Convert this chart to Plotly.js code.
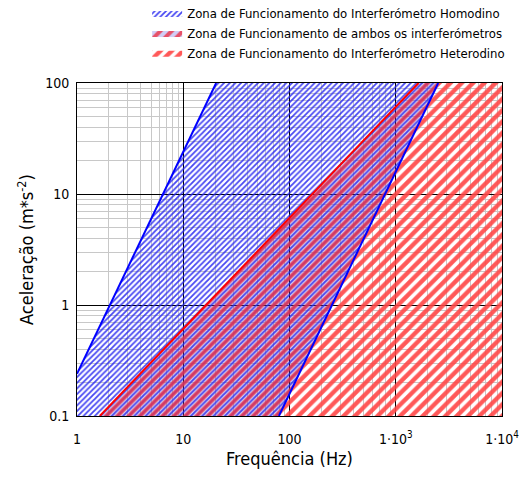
<!DOCTYPE html>
<html>
<head>
<meta charset="utf-8">
<script src="https://cdn.plot.ly/plotly-3.0.1.min.js"></script>
<style>html,body{margin:0;padding:0;background:#fff;}#chart{width:522px;height:477px;}</style>
</head>
<body>
<div id="chart"></div>
<script>
// Axis limits
const freqLimits = [1, 10000];
const accLimits = [0.1, 100];

// Boundary lines (frequency Hz, acceleration m/s^2)
const homodinoLowF = [1, 20.4];      // left edge of homodyne zone
const homodinoLowA = [0.24, 100];
const homodinoHighF = [79.5, 2510];  // right edge of homodyne zone
const homodinoHighA = [0.1, 100];
const heterodinoF = [1.64, 1640];    // left edge of heterodyne zone
const heterodinoA = [0.1, 100];

const legendNames = [
  'Zona de Funcionamento do Interferómetro Homodino',
  'Zona de Funcionamento de ambos os interferómetros',
  'Zona de Funcionamento do Interferómetro Heterodino'
];

const xTickVals = [1, 10, 100, 1000, 10000];
const xTickText = ['1', '10', '100', '1\u00b710<sup>3</sup>', '1\u00b710<sup>4</sup>'];
const yTickVals = [0.1, 1, 10, 100];
const yTickText = ['0.1', '1', '10', '100'];

const FONT = '"DejaVu Sans Condensed", "Liberation Sans Narrow", "Liberation Sans", sans-serif';

const xMin = freqLimits[0], xMax = freqLimits[1];
const yMin = accLimits[0], yMax = accLimits[1];

const bluePat = {shape: '/', fgcolor: 'rgba(40,40,240,0.85)', bgcolor: 'rgba(0,0,0,0)', size: 4, solidity: 0.45};
const redPat = {shape: '/', fgcolor: 'rgba(255,70,70,0.9)', bgcolor: 'rgba(0,0,0,0)', size: 8, solidity: 0.55};
const bothPat = {shape: '/', fgcolor: 'rgba(235,50,70,0.8)', bgcolor: 'rgba(70,60,220,0.25)', size: 8, solidity: 0.5};

const traces = [
  { // homodyne only
    x: [xMin, homodinoLowF[0], homodinoLowF[1], heterodinoF[1], heterodinoF[0]],
    y: [yMin, homodinoLowA[0], homodinoLowA[1], heterodinoA[1], heterodinoA[0]],
    type: 'scatter', mode: 'lines', fill: 'toself', line: {width: 0, color: 'rgba(0,0,0,0)'},
    fillcolor: 'rgba(0,0,0,0)', fillpattern: bluePat, name: legendNames[0], legendrank: 1, hoverinfo: 'skip'
  },
  { // overlap underlay (blue hatch)
    x: [heterodinoF[0], heterodinoF[1], homodinoHighF[1], homodinoHighF[0]],
    y: [heterodinoA[0], heterodinoA[1], homodinoHighA[1], homodinoHighA[0]],
    type: 'scatter', mode: 'lines', fill: 'toself', line: {width: 0, color: 'rgba(0,0,0,0)'},
    fillcolor: 'rgba(0,0,0,0)', fillpattern: bluePat, showlegend: false, hoverinfo: 'skip'
  },
  { // overlap (red hatch on top)
    x: [heterodinoF[0], heterodinoF[1], homodinoHighF[1], homodinoHighF[0]],
    y: [heterodinoA[0], heterodinoA[1], homodinoHighA[1], homodinoHighA[0]],
    type: 'scatter', mode: 'lines', fill: 'toself', line: {width: 0, color: 'rgba(0,0,0,0)'},
    fillcolor: 'rgba(0,0,0,0)', fillpattern: bothPat, name: legendNames[1], legendrank: 2, hoverinfo: 'skip'
  },
  { // heterodyne only
    x: [homodinoHighF[0], homodinoHighF[1], xMax, xMax],
    y: [homodinoHighA[0], homodinoHighA[1], yMax, yMin],
    type: 'scatter', mode: 'lines', fill: 'toself', line: {width: 0, color: 'rgba(0,0,0,0)'},
    fillcolor: 'rgba(0,0,0,0)', fillpattern: redPat, name: legendNames[2], legendrank: 3, hoverinfo: 'skip'
  },
  { x: homodinoLowF, y: homodinoLowA, type: 'scatter', mode: 'lines', line: {color: '#0000ff', width: 2}, showlegend: false, hoverinfo: 'skip' },
  { x: homodinoHighF, y: homodinoHighA, type: 'scatter', mode: 'lines', line: {color: '#0000ff', width: 2}, showlegend: false, hoverinfo: 'skip' },
  { x: heterodinoF, y: heterodinoA, type: 'scatter', mode: 'lines', line: {color: '#ff0000', width: 2}, showlegend: false, hoverinfo: 'skip' }
];

const axisCommon = {
  type: 'log',
  showline: true, linecolor: '#000', linewidth: 1, mirror: true,
  showgrid: true, gridcolor: '#000', gridwidth: 1,
  ticks: '', zeroline: false,
  tickfont: {family: FONT, size: 14, color: '#000'},
  minor: {dtick: 'D1', showgrid: true, gridcolor: '#c8c8c8', gridwidth: 1, ticks: ''}
};

const layout = {
  width: 522, height: 477,
  margin: {l: 77, r: 20, t: 83, b: 61, autoexpand: false},
  paper_bgcolor: '#fff', plot_bgcolor: '#fff',
  font: {family: FONT, color: '#000'},
  showlegend: true,
  legend: {
    x: 0.165, y: 1.255, xanchor: 'left', yanchor: 'top',
    font: {family: FONT, size: 13, color: '#000'},
    bgcolor: 'rgba(0,0,0,0)', borderwidth: 0, tracegroupgap: 0, itemwidth: 30
  },
  xaxis: Object.assign({}, axisCommon, {
    range: [Math.log10(xMin), Math.log10(xMax)],
    tickvals: xTickVals, ticktext: xTickText, ticklabelstandoff: 10,
    title: {text: 'Frequência (Hz)', font: {family: FONT, size: 18, color: '#000'}, standoff: 6}
  }),
  yaxis: Object.assign({}, axisCommon, {
    range: [Math.log10(yMin), Math.log10(yMax)],
    tickvals: yTickVals, ticktext: yTickText, ticklabelstandoff: 4,
    title: {text: 'Aceleração (m*s<sup>-2</sup>)', font: {family: FONT, size: 18, color: '#000'}, standoff: 6}
  })
};

Plotly.newPlot('chart', traces, layout, {displayModeBar: false, staticPlot: true});
</script>
</body>
</html>
